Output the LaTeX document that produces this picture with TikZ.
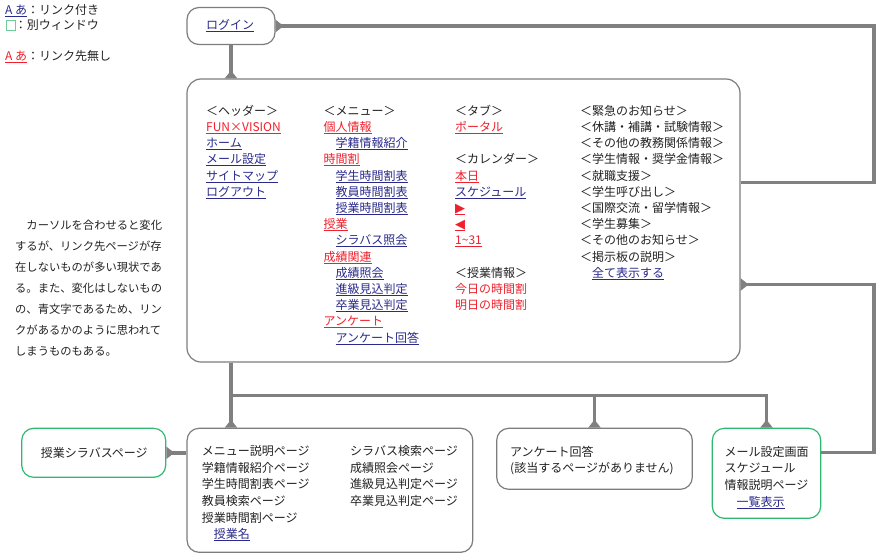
\documentclass[tikz,border=0pt]{standalone}
\usepackage{fontspec}
\setmainfont{Noto Sans CJK JP}
\newfontfamily\symfont{DejaVu Sans}
\usetikzlibrary{arrows.meta}

\definecolor{ink}{RGB}{34,34,34}
\definecolor{linkblue}{RGB}{42,42,140}
\definecolor{linkred}{RGB}{240,32,44}
\definecolor{wiregray}{RGB}{128,128,128}
\definecolor{framegray}{RGB}{125,125,125}
\definecolor{framegreen}{RGB}{48,184,112}

% underlined link text with a fixed rule position
\newsavebox\ulbox
\newcommand\ulx[1]{\sbox\ulbox{#1}\rlap{\rule[-2.4pt]{\wd\ulbox}{0.9pt}}\usebox\ulbox}
\newcommand\lkb[1]{{\color{linkblue}\ulx{#1}}}
\newcommand\lkr[1]{{\color{linkred}\ulx{#1}}}
\newcommand\txr[1]{{\color{linkred}#1}}
\newcommand\ind{\hspace*{1em}}
\newcommand\arrowglyph[1]{{\symfont\fontsize{13}{14}\selectfont #1}}

\begin{document}
\begin{tikzpicture}[x=1pt,y=-1pt,
  lbl/.style={anchor=base west, inner sep=0pt, text=ink, font=\fontsize{12}{14}\selectfont},
  note/.style={anchor=base west, inner sep=0pt, text=ink, font=\fontsize{11.3}{14}\selectfont},
  frame/.style={draw=framegray, line width=1.2pt, rounded corners=12pt, fill=white, inner sep=0pt},
  gframe/.style={frame, draw=framegreen},
  wire/.style={draw=wiregray, line width=3.5pt},
  tipped/.style={-{Triangle[reversed, length=8pt, width=12pt]}},
]
\useasboundingbox (0,0) rectangle (881,557);

% legend
\node[lbl] (lg1) at (5,14.6) {\lkb{A あ}：リンク付き};
\draw[framegreen!70, line width=1pt] (6,20.5) rectangle (15.5,30);
\node[lbl] (lg2) at (14.7,29.6) {：別ウィンドウ};
\node[lbl] (lg3) at (5,60.6) {\lkr{A あ}：リンク先無し};

% boxes
\node[frame, minimum width=88pt, minimum height=37pt] (login) at (231,26) {};
\node[frame, rounded corners=14pt, minimum width=553pt, minimum height=283pt] (main) at (463.5,220.5) {};
\node[gframe, minimum width=144pt, minimum height=49pt] (syl) at (93.7,452.8) {};
\node[frame, minimum width=285.7pt, minimum height=124pt] (pages) at (329.9,490.3) {};
\node[frame, minimum width=195.6pt, minimum height=61pt] (enq) at (594.5,458.8) {};
\node[gframe, minimum width=108.4pt, minimum height=90pt] (mail) at (766.5,473.3) {};

% connectors
\coordinate (rA) at (874,182.5);
\coordinate (rB) at (874,284.5);
\coordinate (rC) at (874,452.5);
\coordinate (jn) at (231,395.7);
\draw[wire, tipped] (login.south) -- (login.south |- main.north);
\draw[wire, tipped] (main.east |- rA) -- (rA) |- (login.east);
\draw[wire, tipped] (mail.east |- rC) -- (rC) -- (rB) -- (main.east |- rB);
\draw[wire, tipped] (main.south -| jn) -- (jn) -- (jn |- pages.north);
\draw[wire, tipped] (jn) -| (mail.north);
\draw[wire, tipped] (jn -| enq.north) -- (enq.north);
\draw[wire, tipped] (pages.west |- syl.east) -- (syl.east);

% login
\node[lbl] (loginlbl) at (206,29.6) {\lkb{ログイン}};

% main box columns
\foreach \row/\lab in {0/{＜ヘッダー＞}, 1/{\lkr{FUN×VISION}}, 2/{\lkb{ホーム}},
    3/{\lkb{メール設定}}, 4/{\lkb{サイトマップ}}, 5/{\lkb{ログアウト}}}
  \node[lbl] (ca-\row) at (206,115.3+16.2*\row) {\lab};

\foreach \row/\lab in {0/{＜メニュー＞}, 1/{\lkr{個人情報}}, 2/{\ind\lkb{学籍情報紹介}},
    3/{\lkr{時間割}}, 4/{\ind\lkb{学生時間割表}}, 5/{\ind\lkb{教員時間割表}},
    6/{\ind\lkb{授業時間割表}}, 7/{\lkr{授業}}, 8/{\ind\lkb{シラバス照会}},
    9/{\lkr{成績関連}}, 10/{\ind\lkb{成績照会}}, 11/{\ind\lkb{進級見込判定}},
    12/{\ind\lkb{卒業見込判定}}, 13/{\lkr{アンケート}}, 14/{\ind\lkb{アンケート回答}}}
  \node[lbl] (cb-\row) at (323.3,115.3+16.2*\row) {\lab};

\foreach \row/\lab in {0/{＜タブ＞}, 1/{\lkr{ポータル}}, 3/{＜カレンダー＞},
    4/{\lkr{本日}}, 5/{\lkb{スケジュール}}, 6/{\lkr{\arrowglyph{▶}}}, 7/{\lkr{\arrowglyph{◀}}},
    8/{\lkr{1\textasciitilde31}}, 10/{＜授業情報＞}, 11/{\txr{今日の時間割}},
    12/{\txr{明日の時間割}}}
  \node[lbl] (cc-\row) at (455,115.3+16.2*\row) {\lab};

\foreach \row/\lab in {0/{＜緊急のお知らせ＞}, 1/{＜休講・補講・試験情報＞},
    2/{＜その他の教務関係情報＞}, 3/{＜学生情報・奨学金情報＞}, 4/{＜就職支援＞},
    5/{＜学生呼び出し＞}, 6/{＜国際交流・留学情報＞}, 7/{＜学生募集＞},
    8/{＜その他のお知らせ＞}, 9/{＜掲示板の説明＞}, 10/{\ind\lkb{全て表示する}}}
  \node[lbl] (cd-\row) at (580,115.3+16.2*\row) {\lab};

% side note
\foreach \row/\lab in {0/{\ind カーソルを合わせると変化}, 1/{するが、リンク先ページが存},
    2/{在しないものが多い現状であ}, 3/{る。また、変化はしないもの},
    4/{の、青文字であるため、リン}, 5/{クがあるかのように思われて},
    6/{しまうものもある。}}
  \node[note] (nt-\row) at (15,229.3+21.1*\row) {\lab};

% lower boxes
\node[lbl] (syllbl) at (40.7,457.3) {授業シラバスページ};

\foreach \row/\lab in {0/{メニュー説明ページ}, 1/{学籍情報紹介ページ}, 2/{学生時間割表ページ},
    3/{教員検索ページ}, 4/{授業時間割ページ}, 5/{\ind\lkb{授業名}}}
  \node[lbl] (pa-\row) at (201.7,455.6+16.6*\row) {\lab};
\foreach \row/\lab in {0/{シラバス検索ページ}, 1/{成績照会ページ}, 2/{進級見込判定ページ},
    3/{卒業見込判定ページ}}
  \node[lbl] (pb-\row) at (350,455.6+16.6*\row) {\lab};

\node[lbl] (enq-0) at (510,456.3) {アンケート回答};
\node[lbl] (enq-1) at (510,472.9) {(該当するページがありません)};

\foreach \row/\lab in {0/{メール設定画面}, 1/{スケジュール}, 2/{情報説明ページ},
    3/{\ind\lkb{一覧表示}}}
  \node[lbl] (ml-\row) at (724.3,456.3+16.6*\row) {\lab};
\end{tikzpicture}
\end{document}
